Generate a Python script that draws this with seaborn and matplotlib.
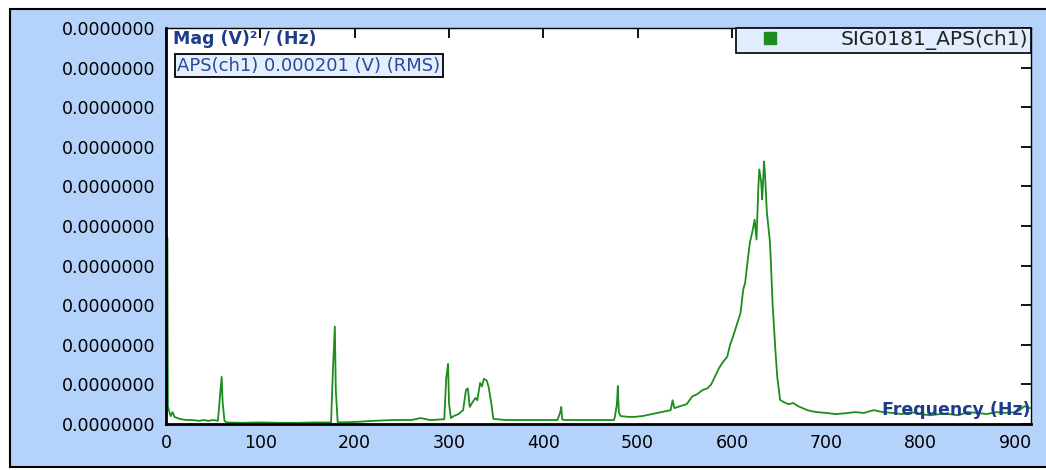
import numpy as np
import matplotlib
matplotlib.use("Agg")
import matplotlib.pyplot as plt
from matplotlib.patches import Rectangle
from matplotlib.lines import Line2D
from matplotlib.ticker import FuncFormatter
import seaborn as sns

# spectrum: frequency (Hz) and magnitude in 1e-9 (V)^2/(Hz)
freq = [0, 1.5, 2, 3, 5, 7, 9, 12, 16, 22, 28, 35, 40, 45, 50, 55,
        57, 59, 60, 62, 64, 80, 100, 120, 140, 160, 175,
        177, 179, 180, 182, 200, 220, 240, 260, 270, 280, 295,
        297, 299, 300, 302, 305, 310, 315, 318, 320, 322, 325, 328, 330,
        333, 335, 337, 340, 342, 345, 347, 360, 380, 400, 415,
        418, 419, 420, 422, 440, 460, 475,
        476, 478, 479, 480, 482, 490, 497, 505, 515, 525, 535,
        537, 539, 545, 552, 558, 563, 569, 574, 578, 582, 586, 590, 595,
        598, 601, 605, 609, 612, 614, 617, 619, 622, 624, 626, 628, 629,
        631, 632, 634, 635, 637, 639, 640, 641, 643, 646, 648, 651, 655,
        660, 665, 670, 675, 680, 685, 690, 700, 710, 720, 730, 740, 750,
        760, 770, 780, 790, 800, 810, 820, 830, 840, 850, 860, 870, 880,
        890, 900, 905, 910, 916]
mag = [4.7, 4.7, 0.45, 0.35, 0.2, 0.3, 0.18, 0.15, 0.12, 0.1, 0.1, 0.08, 0.1, 0.08, 0.1, 0.08,
       0.63, 1.19, 0.56, 0.08, 0.04, 0.03, 0.04, 0.03, 0.03, 0.04, 0.04,
       1.39, 2.46, 0.86, 0.04, 0.05, 0.08, 0.1, 0.1, 0.15, 0.1, 0.12,
       1.14, 1.52, 0.53, 0.15, 0.2, 0.25, 0.35, 0.86, 0.9, 0.43, 0.55, 0.66, 0.6,
       1.04, 0.95, 1.14, 1.1, 0.94, 0.5, 0.13, 0.1, 0.1, 0.1, 0.1,
       0.3, 0.43, 0.12, 0.1, 0.1, 0.1, 0.1,
       0.2, 0.5, 0.96, 0.3, 0.2, 0.18, 0.18, 0.2, 0.25, 0.3, 0.35,
       0.6, 0.4, 0.45, 0.5, 0.7, 0.75, 0.86, 0.9, 1.0, 1.2, 1.4, 1.55, 1.7,
       2.0, 2.2, 2.5, 2.8, 3.4, 3.57, 4.2, 4.58, 4.9, 5.16, 4.66, 6.0, 6.43,
       6.1, 5.67, 6.63, 6.3, 5.34, 4.9, 4.66, 4.23, 3.06, 1.87, 1.19, 0.61, 0.55,
       0.5, 0.53, 0.45, 0.4, 0.35, 0.32, 0.3, 0.28, 0.25, 0.27, 0.3, 0.28, 0.35,
       0.3, 0.28, 0.25, 0.3, 0.25, 0.22, 0.25, 0.25, 0.22, 0.3, 0.28, 0.25, 0.3,
       0.28, 0.3, 0.35, 0.45, 0.4]
psd = np.array(mag) * 1e-9

x_ticks = [0, 100, 200, 300, 400, 500, 600, 700, 800, 900]
y_ticks = np.arange(0, 11) * 1e-9

green = "#1E8C1E"
navy = "#1F3C88"

sns.set_style("white")
plt.rcParams["font.family"] = ["DejaVu Sans"]

fig = plt.figure(figsize=(10.46, 4.70), dpi=100)
fig.patch.set_facecolor("white")
# light blue panel behind the chart
fig.patches.append(Rectangle((10 / 1046, 3 / 470), 1.0, 458 / 470, transform=fig.transFigure,
                             facecolor="#B4D2FA", edgecolor="black", linewidth=1.5, zorder=0))

ax = fig.add_axes([166 / 1046, 46 / 470, 865 / 1046, 396 / 470])
ax.set_zorder(2)
ax.set_facecolor("white")

sns.lineplot(x=freq, y=psd, ax=ax, color=green, linewidth=1.3, estimator=None)

ax.set_xlim(0, 917)
ax.set_ylim(0, 1e-8)
ax.set_xticks(x_ticks)
ax.set_yticks(y_ticks)
ax.yaxis.set_major_formatter(FuncFormatter(lambda v, p: "%.7f" % v))
ax.tick_params(direction="in", top=True, right=True, length=7, width=1.3,
               labelsize=12.5, colors="black")
ax.tick_params(axis="y", pad=8)
ax.tick_params(axis="x", pad=7)
for s in ["left", "bottom"]:
    ax.spines[s].set_linewidth(2)
for s in ["top", "right"]:
    ax.spines[s].set_linewidth(1)
for s in ax.spines.values():
    s.set_color("black")
ax.set_xlabel("")
ax.set_ylabel("")

ax.text(0.008, 0.995, "Mag (V)² / (Hz)", transform=ax.transAxes, ha="left", va="top",
        fontsize=12.5, fontweight="bold", color=navy)
ax.text(0.013, 0.905, "APS(ch1) 0.000201 (V) (RMS)", transform=ax.transAxes, ha="left",
        va="center", fontsize=13, color="#2A4A9A",
        bbox=dict(boxstyle="square,pad=0.12", facecolor="#E4EEFC", edgecolor="black", linewidth=1.3))
ax.text(0.999, 0.035, "Frequency (Hz)", transform=ax.transAxes, ha="right", va="center",
        fontsize=12.5, fontweight="bold", color=navy)

handle = Line2D([], [], marker="s", linestyle="none", color=green, markersize=8)
leg = ax.legend(handles=[handle], labels=["SIG0181_APS(ch1)"], loc="upper right",
                bbox_to_anchor=(1.0, 1.0), borderaxespad=0, fancybox=False,
                edgecolor="black", facecolor="#E2EEFD", framealpha=1,
                handletextpad=2.0, borderpad=0.12, fontsize=14.5, handlelength=3.1)
leg.get_frame().set_linewidth(1.2)
for t in leg.get_texts():
    t.set_color("#222222")

fig.savefig("out.png", dpi=100)
